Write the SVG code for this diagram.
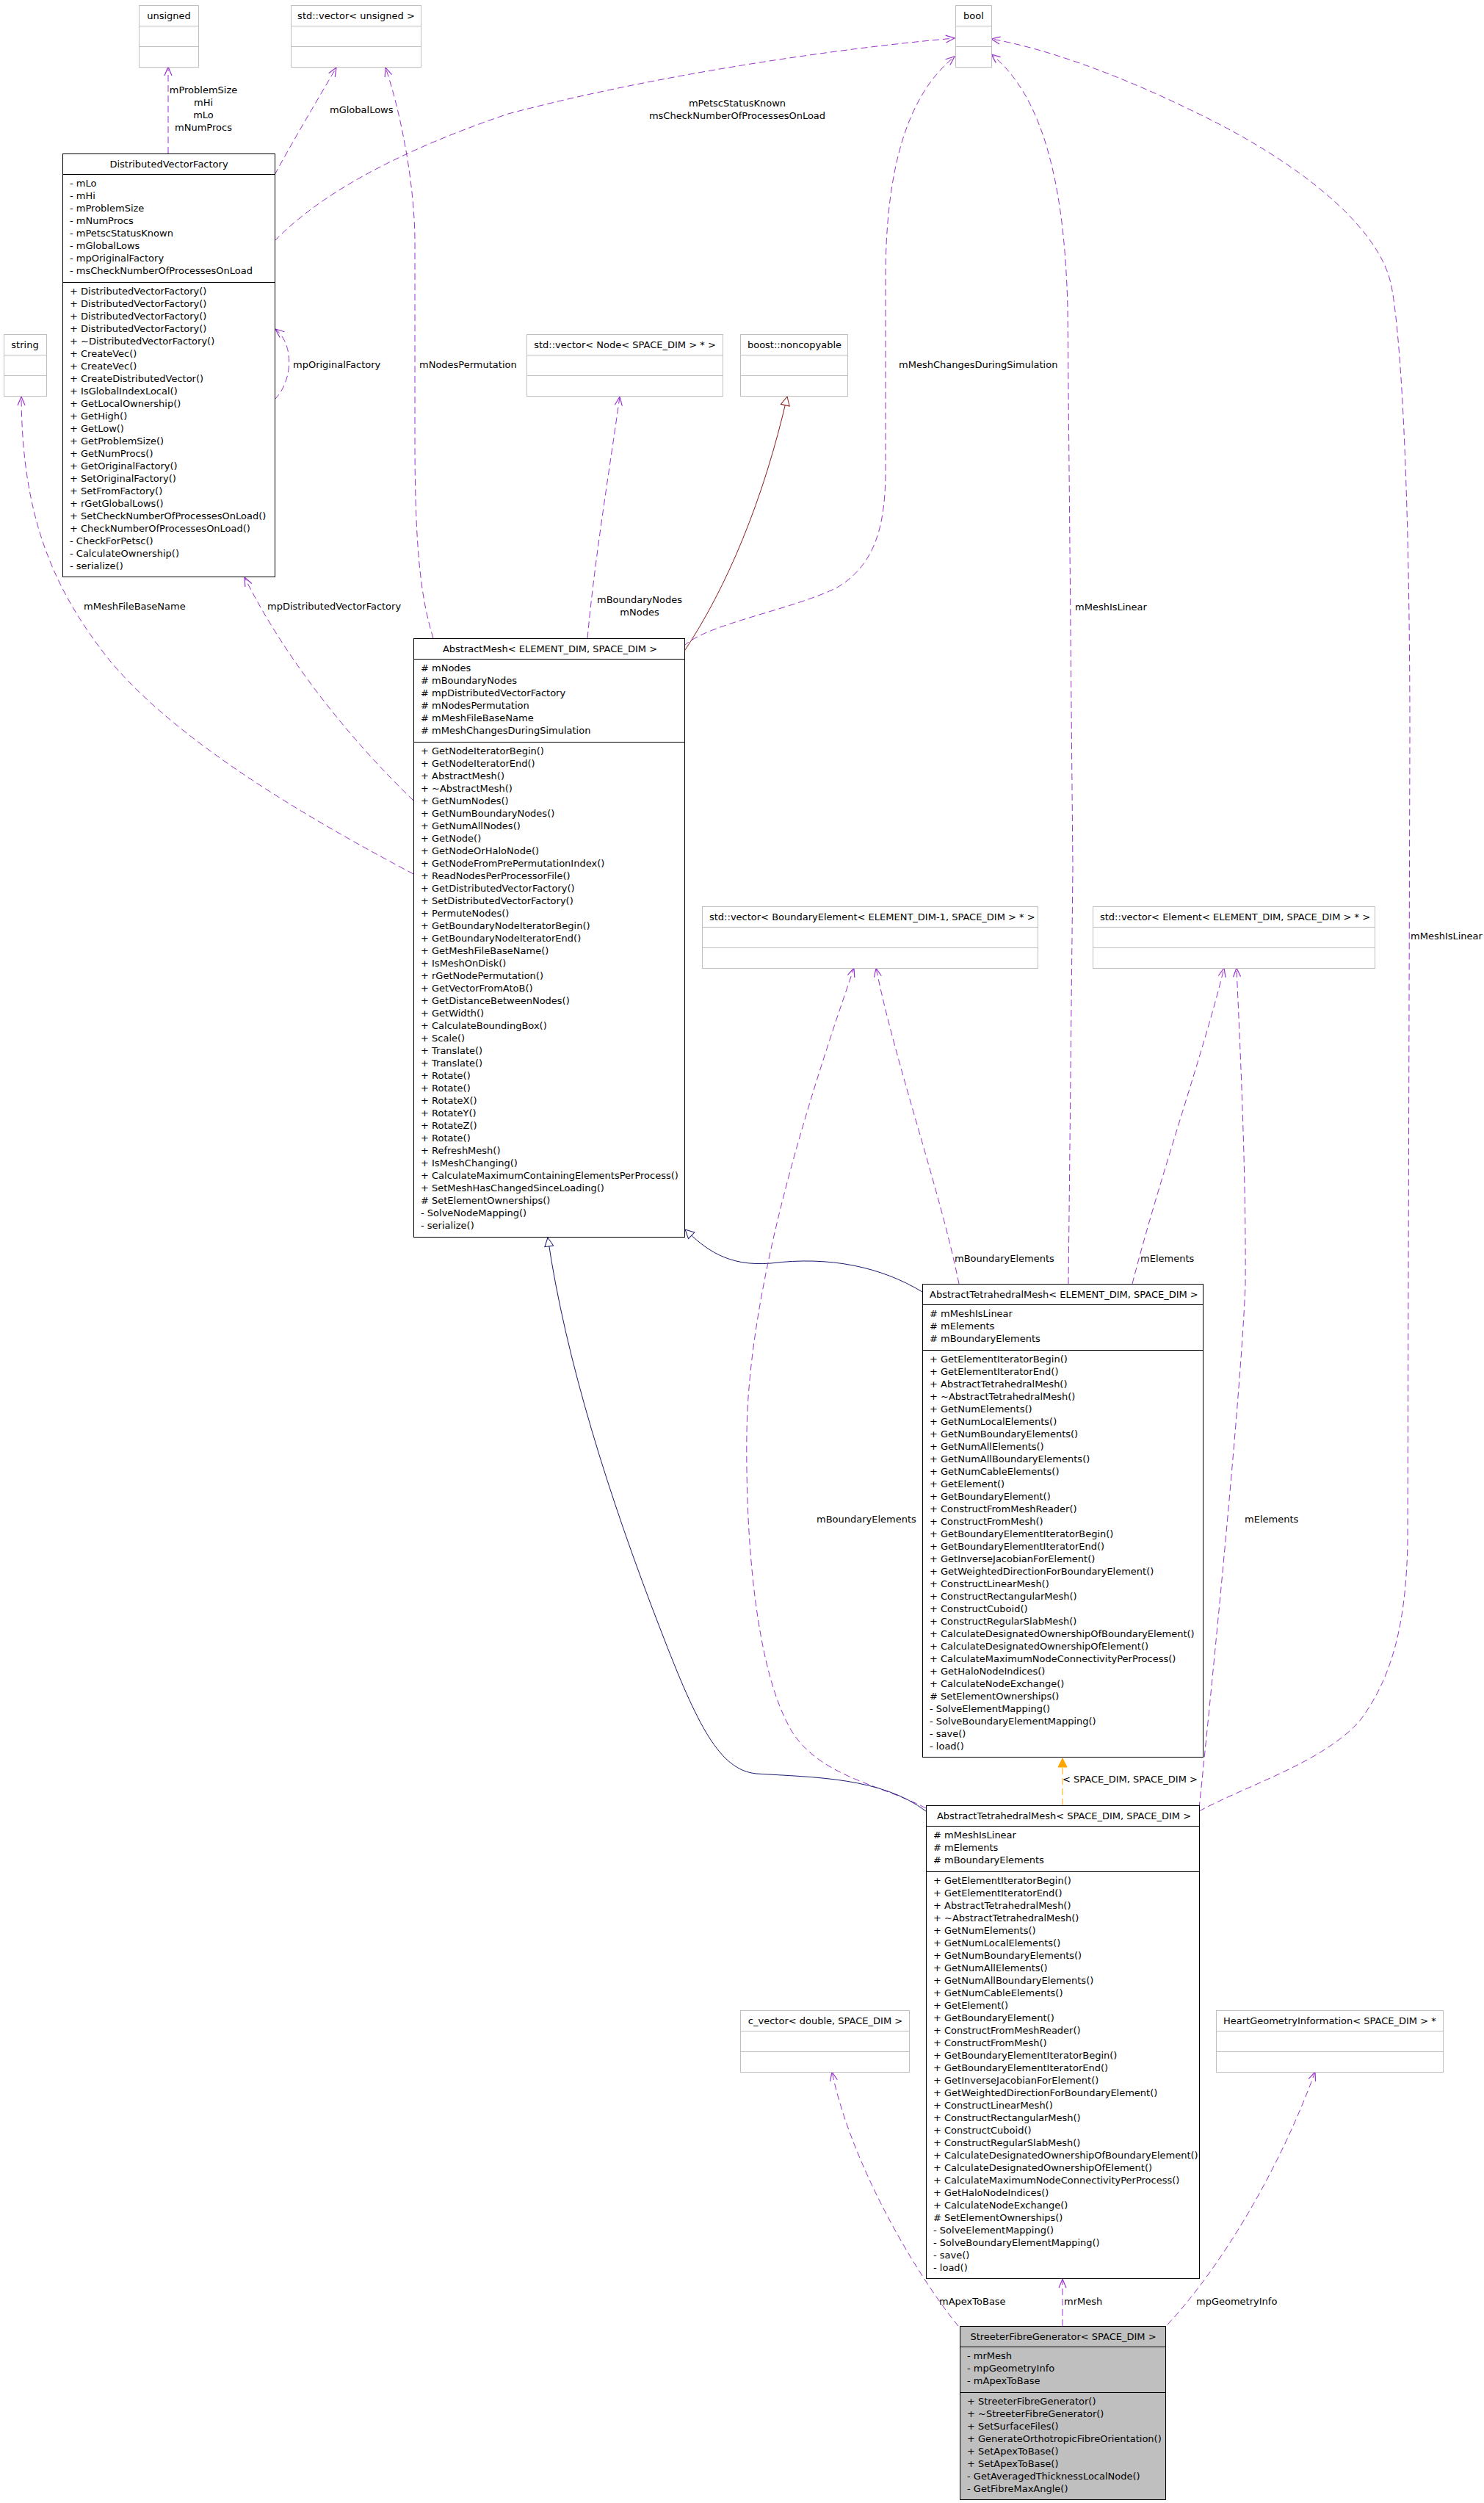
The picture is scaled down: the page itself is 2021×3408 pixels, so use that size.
<svg xmlns="http://www.w3.org/2000/svg" width="2021" height="3408" viewBox="0 0 2021 3408">
<style>
text{font-family:"DejaVu Sans","Liberation Sans",sans-serif;font-size:13px;fill:#000}
.m{text-anchor:middle}
.box{fill:#fff;stroke:#000;stroke-width:1}
.ext{fill:#fff;stroke:#bfbfbf;stroke-width:1}
.sep{stroke:#000;stroke-width:1}
.esep{stroke:#bfbfbf;stroke-width:1}
.main{fill:#bfbfbf;stroke:#000;stroke-width:1}
.u{fill:none;stroke:#9a32cd;stroke-width:1;stroke-dasharray:9,5;marker-end:url(#vee)}
.g{fill:none;stroke:#191970;stroke-width:1;marker-end:url(#tri)}
.gr{fill:none;stroke:#8b1a1a;stroke-width:1;marker-end:url(#trir)}
.tp{fill:none;stroke:#ffa500;stroke-width:1;stroke-dasharray:9,5;marker-end:url(#trio)}
</style>
<defs>
<marker id="vee" markerUnits="userSpaceOnUse" markerWidth="30" markerHeight="30" viewBox="-15 -15 30 30" refX="0" refY="0" orient="auto" overflow="visible"><path d="M-12,-5 L0,0 L-12,5" fill="none" stroke="#9a32cd" stroke-width="1.2"/></marker>
<marker id="tri" markerUnits="userSpaceOnUse" markerWidth="30" markerHeight="30" viewBox="-15 -15 30 30" refX="0" refY="0" orient="auto" overflow="visible"><path d="M-12,-6 L0,0 L-12,6 Z" fill="#fff" stroke="#191970" stroke-width="1"/></marker>
<marker id="trir" markerUnits="userSpaceOnUse" markerWidth="30" markerHeight="30" viewBox="-15 -15 30 30" refX="0" refY="0" orient="auto" overflow="visible"><path d="M-12,-6 L0,0 L-12,6 Z" fill="#fff" stroke="#8b1a1a" stroke-width="1"/></marker>
<marker id="trio" markerUnits="userSpaceOnUse" markerWidth="30" markerHeight="30" viewBox="-15 -15 30 30" refX="0" refY="0" orient="auto" overflow="visible"><path d="M-12,-6 L0,0 L-12,6 Z" fill="#ffa500" stroke="#ffa500" stroke-width="1"/></marker>
</defs>
<rect width="2021" height="3408" fill="#fff"/>

<g id="connectors">
<path class="u" d="M229,209 L229,91"/>
<path class="u" d="M374,238 C400,190 430,140 458,92"/>
<path class="u" d="M374,328 C430,270 530,210 692,155 C900,100 1150,65 1300,52"/>
<path class="u" d="M374,544 C398,520 402,470 375,448"/>
<path class="u" d="M563,1190 C450,1130 250,1020 150,900 C70,800 30,700 29,540"/>
<path class="u" d="M563,1090 C480,1010 390,900 333,786"/>
<path class="u" d="M590,869 C575,820 565,760 565,600 L565,330 C565,250 545,150 525,92"/>
<path class="u" d="M800,869 C810,760 830,640 844,540"/>
<path class="gr" d="M931,888 C990,800 1040,680 1072,540"/>
<path class="u" d="M931,880 C960,850 1080,830 1140,800 C1190,770 1206,720 1206,640 L1206,380 C1206,230 1235,130 1300,77"/>
<path class="g" d="M1256,1759 C1200,1725 1130,1710 1050,1720 C990,1725 960,1700 933,1674"/>
<path class="u" d="M1306,1748 C1280,1620 1220,1450 1193,1318"/>
<path class="u" d="M1542,1748 C1580,1600 1640,1430 1667,1318"/>
<path class="u" d="M1455,1748 L1461,1180 L1454,420 C1450,250 1420,130 1350,74"/>
<path class="u" d="M1633,2466 C1700,2430 1800,2400 1851,2344 C1900,2280 1915,2200 1917,2100 L1920,1000 C1920,700 1910,470 1895,390 C1880,310 1770,220 1622,150 C1520,100 1420,65 1350,53"/>
<path class="u" d="M1261,2462 C1200,2430 1120,2420 1080,2360 C1030,2280 1015,2100 1017,1950 C1020,1750 1100,1500 1163,1318"/>
<path class="u" d="M1633,2462 C1650,2300 1690,1900 1696,1750 C1697,1600 1690,1450 1684,1318"/>
<path class="g" d="M1261,2466 C1200,2420 1110,2420 1030,2415 C980,2410 950,2350 900,2220 C830,2040 770,1850 746,1685"/>
<path class="tp" d="M1447,2458 L1447,2394"/>
<path class="u" d="M1447,3167 L1447,3103"/>
<path class="u" d="M1305,3167 C1250,3100 1160,2950 1133,2821"/>
<path class="u" d="M1590,3165 C1660,3090 1740,2960 1791,2821"/>

<text class="m" x="277" y="127">mProblemSize</text>
<text class="m" x="277" y="144">mHi</text>
<text class="m" x="277" y="161">mLo</text>
<text class="m" x="277" y="178">mNumProcs</text>
<text x="449" y="154">mGlobalLows</text>
<text class="m" x="1004" y="145">mPetscStatusKnown</text>
<text class="m" x="1004" y="162">msCheckNumberOfProcessesOnLoad</text>
<text x="399" y="501">mpOriginalFactory</text>
<text x="114" y="830">mMeshFileBaseName</text>
<text x="364" y="830">mpDistributedVectorFactory</text>
<text x="571" y="501">mNodesPermutation</text>
<text class="m" x="871" y="821">mBoundaryNodes</text>
<text class="m" x="871" y="838">mNodes</text>
<text x="1224" y="501">mMeshChangesDuringSimulation</text>
<text x="1464" y="831">mMeshIsLinear</text>
<text x="1921" y="1279">mMeshIsLinear</text>
<text x="1300" y="1718">mBoundaryElements</text>
<text x="1553" y="1718">mElements</text>
<text x="1112" y="2073">mBoundaryElements</text>
<text x="1695" y="2073">mElements</text>
<text x="1447" y="2427">&lt; SPACE_DIM, SPACE_DIM &gt;</text>
<text x="1279" y="3138">mApexToBase</text>
<text x="1449" y="3138">mrMesh</text>
<text x="1629" y="3138">mpGeometryInfo</text>
</g>

<g id="unsigned">
<rect class="ext" x="189.5" y="7.5" width="81" height="84"/>
<line class="esep" x1="189.5" y1="35.5" x2="270.5" y2="35.5"/>
<line class="esep" x1="189.5" y1="63.5" x2="270.5" y2="63.5"/>
<text class="m" x="230" y="26">unsigned</text>
</g>

<g id="vector_unsigned">
<rect class="ext" x="396.5" y="7.5" width="177" height="84"/>
<line class="esep" x1="396.5" y1="35.5" x2="573.5" y2="35.5"/>
<line class="esep" x1="396.5" y1="63.5" x2="573.5" y2="63.5"/>
<text class="m" x="485" y="26">std::vector&lt; unsigned &gt;</text>
</g>

<g id="bool">
<rect class="ext" x="1301.5" y="7.5" width="49" height="84"/>
<line class="esep" x1="1301.5" y1="35.5" x2="1350.5" y2="35.5"/>
<line class="esep" x1="1301.5" y1="63.5" x2="1350.5" y2="63.5"/>
<text class="m" x="1326" y="26">bool</text>
</g>

<g id="DistributedVectorFactory">
<rect class="box" x="85.5" y="209.5" width="289" height="576"/>
<line class="sep" x1="85.5" y1="237.5" x2="374.5" y2="237.5"/>
<line class="sep" x1="85.5" y1="384.5" x2="374.5" y2="384.5"/>
<text class="m" x="230" y="228">DistributedVectorFactory</text>
<text x="95" y="254"><tspan x="95">- mLo</tspan><tspan x="95" dy="17">- mHi</tspan><tspan x="95" dy="17">- mProblemSize</tspan><tspan x="95" dy="17">- mNumProcs</tspan><tspan x="95" dy="17">- mPetscStatusKnown</tspan><tspan x="95" dy="17">- mGlobalLows</tspan><tspan x="95" dy="17">- mpOriginalFactory</tspan><tspan x="95" dy="17">- msCheckNumberOfProcessesOnLoad</tspan></text>
<text x="95" y="401"><tspan x="95">+ DistributedVectorFactory()</tspan><tspan x="95" dy="17">+ DistributedVectorFactory()</tspan><tspan x="95" dy="17">+ DistributedVectorFactory()</tspan><tspan x="95" dy="17">+ DistributedVectorFactory()</tspan><tspan x="95" dy="17">+ ~DistributedVectorFactory()</tspan><tspan x="95" dy="17">+ CreateVec()</tspan><tspan x="95" dy="17">+ CreateVec()</tspan><tspan x="95" dy="17">+ CreateDistributedVector()</tspan><tspan x="95" dy="17">+ IsGlobalIndexLocal()</tspan><tspan x="95" dy="17">+ GetLocalOwnership()</tspan><tspan x="95" dy="17">+ GetHigh()</tspan><tspan x="95" dy="17">+ GetLow()</tspan><tspan x="95" dy="17">+ GetProblemSize()</tspan><tspan x="95" dy="17">+ GetNumProcs()</tspan><tspan x="95" dy="17">+ GetOriginalFactory()</tspan><tspan x="95" dy="17">+ SetOriginalFactory()</tspan><tspan x="95" dy="17">+ SetFromFactory()</tspan><tspan x="95" dy="17">+ rGetGlobalLows()</tspan><tspan x="95" dy="17">+ SetCheckNumberOfProcessesOnLoad()</tspan><tspan x="95" dy="17">+ CheckNumberOfProcessesOnLoad()</tspan><tspan x="95" dy="17">- CheckForPetsc()</tspan><tspan x="95" dy="17">- CalculateOwnership()</tspan><tspan x="95" dy="17">- serialize()</tspan></text>
</g>

<g id="string">
<rect class="ext" x="5.5" y="455.5" width="58" height="84"/>
<line class="esep" x1="5.5" y1="483.5" x2="63.5" y2="483.5"/>
<line class="esep" x1="5.5" y1="511.5" x2="63.5" y2="511.5"/>
<text class="m" x="34" y="474">string</text>
</g>

<g id="vector_node">
<rect class="ext" x="717.5" y="455.5" width="267" height="84"/>
<line class="esep" x1="717.5" y1="483.5" x2="984.5" y2="483.5"/>
<line class="esep" x1="717.5" y1="511.5" x2="984.5" y2="511.5"/>
<text class="m" x="851" y="474">std::vector&lt; Node&lt; SPACE_DIM &gt; * &gt;</text>
</g>

<g id="noncopyable">
<rect class="ext" x="1008.5" y="455.5" width="146" height="84"/>
<line class="esep" x1="1008.5" y1="483.5" x2="1154.5" y2="483.5"/>
<line class="esep" x1="1008.5" y1="511.5" x2="1154.5" y2="511.5"/>
<text class="m" x="1082" y="474">boost::noncopyable</text>
</g>

<g id="AbstractMesh">
<rect class="box" x="563.5" y="869.5" width="369" height="815"/>
<line class="sep" x1="563.5" y1="897.5" x2="932.5" y2="897.5"/>
<line class="sep" x1="563.5" y1="1010.5" x2="932.5" y2="1010.5"/>
<text class="m" x="749" y="888">AbstractMesh&lt; ELEMENT_DIM, SPACE_DIM &gt;</text>
<text x="573" y="914"><tspan x="573"># mNodes</tspan><tspan x="573" dy="17"># mBoundaryNodes</tspan><tspan x="573" dy="17"># mpDistributedVectorFactory</tspan><tspan x="573" dy="17"># mNodesPermutation</tspan><tspan x="573" dy="17"># mMeshFileBaseName</tspan><tspan x="573" dy="17"># mMeshChangesDuringSimulation</tspan></text>
<text x="573" y="1027"><tspan x="573">+ GetNodeIteratorBegin()</tspan><tspan x="573" dy="17">+ GetNodeIteratorEnd()</tspan><tspan x="573" dy="17">+ AbstractMesh()</tspan><tspan x="573" dy="17">+ ~AbstractMesh()</tspan><tspan x="573" dy="17">+ GetNumNodes()</tspan><tspan x="573" dy="17">+ GetNumBoundaryNodes()</tspan><tspan x="573" dy="17">+ GetNumAllNodes()</tspan><tspan x="573" dy="17">+ GetNode()</tspan><tspan x="573" dy="17">+ GetNodeOrHaloNode()</tspan><tspan x="573" dy="17">+ GetNodeFromPrePermutationIndex()</tspan><tspan x="573" dy="17">+ ReadNodesPerProcessorFile()</tspan><tspan x="573" dy="17">+ GetDistributedVectorFactory()</tspan><tspan x="573" dy="17">+ SetDistributedVectorFactory()</tspan><tspan x="573" dy="17">+ PermuteNodes()</tspan><tspan x="573" dy="17">+ GetBoundaryNodeIteratorBegin()</tspan><tspan x="573" dy="17">+ GetBoundaryNodeIteratorEnd()</tspan><tspan x="573" dy="17">+ GetMeshFileBaseName()</tspan><tspan x="573" dy="17">+ IsMeshOnDisk()</tspan><tspan x="573" dy="17">+ rGetNodePermutation()</tspan><tspan x="573" dy="17">+ GetVectorFromAtoB()</tspan><tspan x="573" dy="17">+ GetDistanceBetweenNodes()</tspan><tspan x="573" dy="17">+ GetWidth()</tspan><tspan x="573" dy="17">+ CalculateBoundingBox()</tspan><tspan x="573" dy="17">+ Scale()</tspan><tspan x="573" dy="17">+ Translate()</tspan><tspan x="573" dy="17">+ Translate()</tspan><tspan x="573" dy="17">+ Rotate()</tspan><tspan x="573" dy="17">+ Rotate()</tspan><tspan x="573" dy="17">+ RotateX()</tspan><tspan x="573" dy="17">+ RotateY()</tspan><tspan x="573" dy="17">+ RotateZ()</tspan><tspan x="573" dy="17">+ Rotate()</tspan><tspan x="573" dy="17">+ RefreshMesh()</tspan><tspan x="573" dy="17">+ IsMeshChanging()</tspan><tspan x="573" dy="17">+ CalculateMaximumContainingElementsPerProcess()</tspan><tspan x="573" dy="17">+ SetMeshHasChangedSinceLoading()</tspan><tspan x="573" dy="17"># SetElementOwnerships()</tspan><tspan x="573" dy="17">- SolveNodeMapping()</tspan><tspan x="573" dy="17">- serialize()</tspan></text>
</g>

<g id="vector_boundary_element">
<rect class="ext" x="956.5" y="1234.5" width="457" height="84"/>
<line class="esep" x1="956.5" y1="1262.5" x2="1413.5" y2="1262.5"/>
<line class="esep" x1="956.5" y1="1290.5" x2="1413.5" y2="1290.5"/>
<text x="966" y="1253">std::vector&lt; BoundaryElement&lt; ELEMENT_DIM-1, SPACE_DIM &gt; * &gt;</text>
</g>

<g id="vector_element">
<rect class="ext" x="1488.5" y="1234.5" width="384" height="84"/>
<line class="esep" x1="1488.5" y1="1262.5" x2="1872.5" y2="1262.5"/>
<line class="esep" x1="1488.5" y1="1290.5" x2="1872.5" y2="1290.5"/>
<text x="1498" y="1253">std::vector&lt; Element&lt; ELEMENT_DIM, SPACE_DIM &gt; * &gt;</text>
</g>

<g id="AbstractTetrahedralMesh_E_S">
<rect class="box" x="1256.5" y="1748.5" width="382" height="644"/>
<line class="sep" x1="1256.5" y1="1776.5" x2="1638.5" y2="1776.5"/>
<line class="sep" x1="1256.5" y1="1838.5" x2="1638.5" y2="1838.5"/>
<text x="1266" y="1767">AbstractTetrahedralMesh&lt; ELEMENT_DIM, SPACE_DIM &gt;</text>
<text x="1266" y="1793"><tspan x="1266"># mMeshIsLinear</tspan><tspan x="1266" dy="17"># mElements</tspan><tspan x="1266" dy="17"># mBoundaryElements</tspan></text>
<text x="1266" y="1855"><tspan x="1266">+ GetElementIteratorBegin()</tspan><tspan x="1266" dy="17">+ GetElementIteratorEnd()</tspan><tspan x="1266" dy="17">+ AbstractTetrahedralMesh()</tspan><tspan x="1266" dy="17">+ ~AbstractTetrahedralMesh()</tspan><tspan x="1266" dy="17">+ GetNumElements()</tspan><tspan x="1266" dy="17">+ GetNumLocalElements()</tspan><tspan x="1266" dy="17">+ GetNumBoundaryElements()</tspan><tspan x="1266" dy="17">+ GetNumAllElements()</tspan><tspan x="1266" dy="17">+ GetNumAllBoundaryElements()</tspan><tspan x="1266" dy="17">+ GetNumCableElements()</tspan><tspan x="1266" dy="17">+ GetElement()</tspan><tspan x="1266" dy="17">+ GetBoundaryElement()</tspan><tspan x="1266" dy="17">+ ConstructFromMeshReader()</tspan><tspan x="1266" dy="17">+ ConstructFromMesh()</tspan><tspan x="1266" dy="17">+ GetBoundaryElementIteratorBegin()</tspan><tspan x="1266" dy="17">+ GetBoundaryElementIteratorEnd()</tspan><tspan x="1266" dy="17">+ GetInverseJacobianForElement()</tspan><tspan x="1266" dy="17">+ GetWeightedDirectionForBoundaryElement()</tspan><tspan x="1266" dy="17">+ ConstructLinearMesh()</tspan><tspan x="1266" dy="17">+ ConstructRectangularMesh()</tspan><tspan x="1266" dy="17">+ ConstructCuboid()</tspan><tspan x="1266" dy="17">+ ConstructRegularSlabMesh()</tspan><tspan x="1266" dy="17">+ CalculateDesignatedOwnershipOfBoundaryElement()</tspan><tspan x="1266" dy="17">+ CalculateDesignatedOwnershipOfElement()</tspan><tspan x="1266" dy="17">+ CalculateMaximumNodeConnectivityPerProcess()</tspan><tspan x="1266" dy="17">+ GetHaloNodeIndices()</tspan><tspan x="1266" dy="17">+ CalculateNodeExchange()</tspan><tspan x="1266" dy="17"># SetElementOwnerships()</tspan><tspan x="1266" dy="17">- SolveElementMapping()</tspan><tspan x="1266" dy="17">- SolveBoundaryElementMapping()</tspan><tspan x="1266" dy="17">- save()</tspan><tspan x="1266" dy="17">- load()</tspan></text>
</g>

<g id="AbstractTetrahedralMesh_S_S">
<rect class="box" x="1261.5" y="2458.5" width="372" height="644"/>
<line class="sep" x1="1261.5" y1="2486.5" x2="1633.5" y2="2486.5"/>
<line class="sep" x1="1261.5" y1="2548.5" x2="1633.5" y2="2548.5"/>
<text class="m" x="1449" y="2477">AbstractTetrahedralMesh&lt; SPACE_DIM, SPACE_DIM &gt;</text>
<text x="1271" y="2503"><tspan x="1271"># mMeshIsLinear</tspan><tspan x="1271" dy="17"># mElements</tspan><tspan x="1271" dy="17"># mBoundaryElements</tspan></text>
<text x="1271" y="2565"><tspan x="1271">+ GetElementIteratorBegin()</tspan><tspan x="1271" dy="17">+ GetElementIteratorEnd()</tspan><tspan x="1271" dy="17">+ AbstractTetrahedralMesh()</tspan><tspan x="1271" dy="17">+ ~AbstractTetrahedralMesh()</tspan><tspan x="1271" dy="17">+ GetNumElements()</tspan><tspan x="1271" dy="17">+ GetNumLocalElements()</tspan><tspan x="1271" dy="17">+ GetNumBoundaryElements()</tspan><tspan x="1271" dy="17">+ GetNumAllElements()</tspan><tspan x="1271" dy="17">+ GetNumAllBoundaryElements()</tspan><tspan x="1271" dy="17">+ GetNumCableElements()</tspan><tspan x="1271" dy="17">+ GetElement()</tspan><tspan x="1271" dy="17">+ GetBoundaryElement()</tspan><tspan x="1271" dy="17">+ ConstructFromMeshReader()</tspan><tspan x="1271" dy="17">+ ConstructFromMesh()</tspan><tspan x="1271" dy="17">+ GetBoundaryElementIteratorBegin()</tspan><tspan x="1271" dy="17">+ GetBoundaryElementIteratorEnd()</tspan><tspan x="1271" dy="17">+ GetInverseJacobianForElement()</tspan><tspan x="1271" dy="17">+ GetWeightedDirectionForBoundaryElement()</tspan><tspan x="1271" dy="17">+ ConstructLinearMesh()</tspan><tspan x="1271" dy="17">+ ConstructRectangularMesh()</tspan><tspan x="1271" dy="17">+ ConstructCuboid()</tspan><tspan x="1271" dy="17">+ ConstructRegularSlabMesh()</tspan><tspan x="1271" dy="17">+ CalculateDesignatedOwnershipOfBoundaryElement()</tspan><tspan x="1271" dy="17">+ CalculateDesignatedOwnershipOfElement()</tspan><tspan x="1271" dy="17">+ CalculateMaximumNodeConnectivityPerProcess()</tspan><tspan x="1271" dy="17">+ GetHaloNodeIndices()</tspan><tspan x="1271" dy="17">+ CalculateNodeExchange()</tspan><tspan x="1271" dy="17"># SetElementOwnerships()</tspan><tspan x="1271" dy="17">- SolveElementMapping()</tspan><tspan x="1271" dy="17">- SolveBoundaryElementMapping()</tspan><tspan x="1271" dy="17">- save()</tspan><tspan x="1271" dy="17">- load()</tspan></text>
</g>

<g id="c_vector">
<rect class="ext" x="1008.5" y="2737.5" width="230" height="84"/>
<line class="esep" x1="1008.5" y1="2765.5" x2="1238.5" y2="2765.5"/>
<line class="esep" x1="1008.5" y1="2793.5" x2="1238.5" y2="2793.5"/>
<text class="m" x="1124" y="2756">c_vector&lt; double, SPACE_DIM &gt;</text>
</g>

<g id="HeartGeometryInformation">
<rect class="ext" x="1656.5" y="2737.5" width="309" height="84"/>
<line class="esep" x1="1656.5" y1="2765.5" x2="1965.5" y2="2765.5"/>
<line class="esep" x1="1656.5" y1="2793.5" x2="1965.5" y2="2793.5"/>
<text x="1666" y="2756">HeartGeometryInformation&lt; SPACE_DIM &gt; *</text>
</g>

<g id="StreeterFibreGenerator">
<rect class="main" x="1307.5" y="3167.5" width="280" height="236"/>
<line class="sep" x1="1307.5" y1="3195.5" x2="1587.5" y2="3195.5"/>
<line class="sep" x1="1307.5" y1="3257.5" x2="1587.5" y2="3257.5"/>
<text class="m" x="1448" y="3186">StreeterFibreGenerator&lt; SPACE_DIM &gt;</text>
<text x="1317" y="3212"><tspan x="1317">- mrMesh</tspan><tspan x="1317" dy="17">- mpGeometryInfo</tspan><tspan x="1317" dy="17">- mApexToBase</tspan></text>
<text x="1317" y="3274"><tspan x="1317">+ StreeterFibreGenerator()</tspan><tspan x="1317" dy="17">+ ~StreeterFibreGenerator()</tspan><tspan x="1317" dy="17">+ SetSurfaceFiles()</tspan><tspan x="1317" dy="17">+ GenerateOrthotropicFibreOrientation()</tspan><tspan x="1317" dy="17">+ SetApexToBase()</tspan><tspan x="1317" dy="17">+ SetApexToBase()</tspan><tspan x="1317" dy="17">- GetAveragedThicknessLocalNode()</tspan><tspan x="1317" dy="17">- GetFibreMaxAngle()</tspan></text>
</g>
</svg>
